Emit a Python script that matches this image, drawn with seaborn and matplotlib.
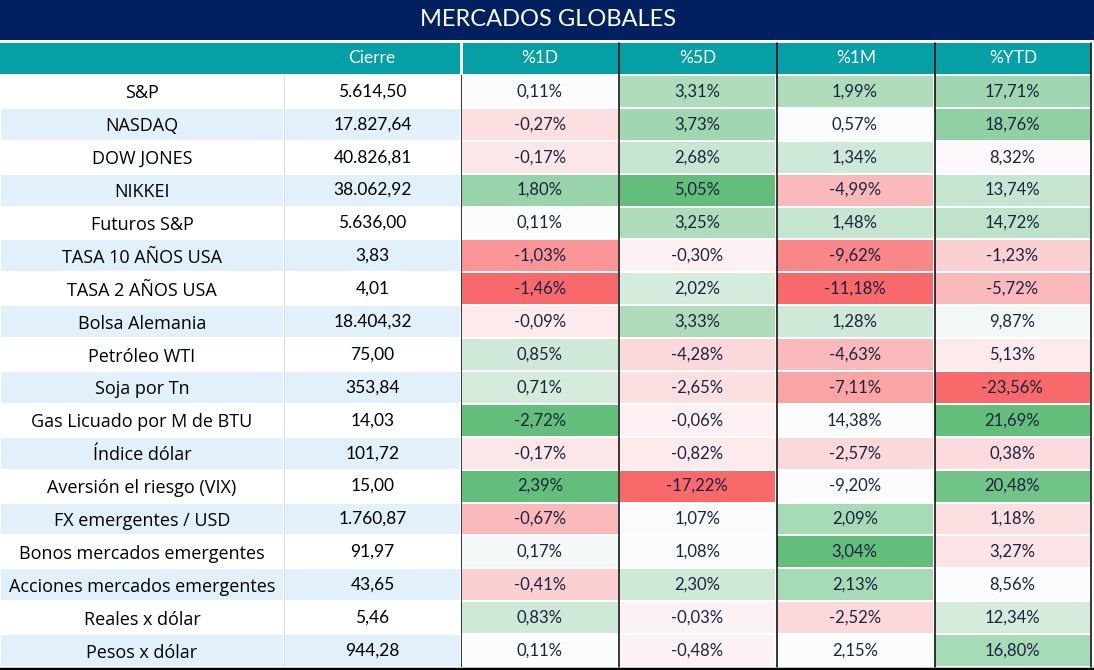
import matplotlib
matplotlib.use("Agg")
import matplotlib.pyplot as plt
import numpy as np
import seaborn as sns
from matplotlib.colors import LinearSegmentedColormap, ListedColormap
from matplotlib.lines import Line2D
from matplotlib.patches import Rectangle

# Datos de la tabla
titulo = "MERCADOS GLOBALES"
activos = ["S&P", "NASDAQ", "DOW JONES", "NIKKEI", "Futuros S&P", "TASA 10 AÑOS USA",
           "TASA 2 AÑOS USA", "Bolsa Alemania", "Petróleo WTI", "Soja por Tn",
           "Gas Licuado por M de BTU", "Índice dólar", "Aversión el riesgo (VIX)",
           "FX emergentes / USD", "Bonos mercados emergentes",
           "Acciones mercados emergentes", "Reales x dólar", "Pesos x dólar"]
cierre = [5614.50, 17827.64, 40826.81, 38062.92, 5636.00, 3.83, 4.01, 18404.32, 75.00,
          353.84, 14.03, 101.72, 15.00, 1760.87, 91.97, 43.65, 5.46, 944.28]
columnas = ["%1D", "%5D", "%1M", "%YTD"]
var_1d = [0.11, -0.27, -0.17, 1.80, 0.11, -1.03, -1.46, -0.09, 0.85, 0.71, -2.72, -0.17,
          2.39, -0.67, 0.17, -0.41, 0.83, 0.11]
var_5d = [3.31, 3.73, 2.68, 5.05, 3.25, -0.30, 2.02, 3.33, -4.28, -2.65, -0.06, -0.82,
          -17.22, 1.07, 1.08, 2.30, -0.03, -0.48]
var_1m = [1.99, 0.57, 1.34, -4.99, 1.48, -9.62, -11.18, 1.28, -4.63, -7.11, 14.38, -2.57,
          -9.20, 2.09, 3.04, 2.13, -2.52, 2.15]
var_ytd = [17.71, 18.76, 8.32, 13.74, 14.72, -1.23, -5.72, 9.87, 5.13, -23.56, 21.69, 0.38,
           20.48, 1.18, 3.27, 8.56, 12.34, 16.80]

color_1d = [0.0, -0.2, -0.15, 0.65, 0.0, -0.7, -1.0, -0.12, 0.3, 0.25, 1.0, -0.15,
            1.0, -0.45, 0.05, -0.3, 0.3, 0.0]
color_5d = [0.5, 0.6, 0.35, 1.0, 0.5, -0.08, 0.25, 0.5, -0.25, -0.2, -0.08, -0.12,
            -1.0, 0.02, 0.02, 0.3, -0.07, -0.07]
color_1m = [0.5, 0.0, 0.3, -0.45, 0.35, -0.8, -1.0, 0.3, -0.45, -0.6, 0.0, -0.25,
            0.0, 0.55, 1.0, 0.55, -0.25, 0.0]
color_ytd = [0.6, 0.7, -0.03, 0.35, 0.4, -0.3, -0.45, 0.06, -0.12, -1.0, 1.0, -0.22,
             0.9, -0.2, -0.17, 0.0, 0.25, 0.55]


def fmt_pct(v):
    return f"{v:.2f}".replace(".", ",") + "%"


def fmt_num(v):
    return f"{v:,.2f}".replace(",", "X").replace(".", ",").replace("X", ".")


sns.set_theme(style="white")
plt.rcParams["font.family"] = ["Lato", "DejaVu Sans"]

W, H = 1094, 670
fig = plt.figure(figsize=(W / 100, H / 100), dpi=100)
fig.patch.set_facecolor("white")


def box(x0, y0, x1, y1):
    return [x0 / W, 1 - y1 / H, (x1 - x0) / W, (y1 - y0) / H]


navy = "#002060"
teal = "#05A0A5"
azul_claro = "#E2F0FB"
texto = "#1C2340"

# barra de titulo y encabezado
fig.add_artist(Rectangle((0, 1 - 40 / H), 1, 40 / H, transform=fig.transFigure,
                         facecolor=navy, edgecolor="none"))
fig.text(548 / W, 1 - 20 / H, titulo, color="white", fontsize=17, ha="center", va="center")
fig.add_artist(Rectangle((0, 1 - 74 / H), 1091 / W, 31 / H, transform=fig.transFigure,
                         facecolor=teal, edgecolor="none"))

n = len(activos)
paridad = (np.arange(n) % 2).reshape(-1, 1)
fondo = ListedColormap(["white", azul_claro])

ax_nom = fig.add_axes(box(0, 75, 284, 667))
sns.heatmap(paridad, ax=ax_nom, cmap=fondo, vmin=0, vmax=1, cbar=False,
            annot=np.array(activos).reshape(-1, 1), fmt="",
            annot_kws={"fontsize": 13, "color": "black", "va": "center_baseline",
                       "family": ["Open Sans", "DejaVu Sans"]},
            linewidths=1.2, linecolor="white", xticklabels=False, yticklabels=False)

ax_cie = fig.add_axes(box(284, 75, 461, 667))
sns.heatmap(paridad, ax=ax_cie, cmap=fondo, vmin=0, vmax=1, cbar=False,
            annot=np.array([fmt_num(v) for v in cierre]).reshape(-1, 1), fmt="",
            annot_kws={"fontsize": 12.5, "color": "black"},
            linewidths=1.2, linecolor="white", xticklabels=False, yticklabels=False)
ax_cie.axvline(0, color="#D9D9D9", lw=1.2)

valores = np.column_stack([var_1d, var_5d, var_1m, var_ytd])
colores = np.column_stack([color_1d, color_5d, color_1m, color_ytd])
etiquetas = np.vectorize(fmt_pct)(valores)
escala = LinearSegmentedColormap.from_list("excel", ["#F8696B", "#FCFCFF", "#63BE7B"])

ax_var = fig.add_axes(box(461, 75, 1091, 667))
sns.heatmap(colores, ax=ax_var, cmap=escala, vmin=-1, vmax=1, cbar=False,
            annot=etiquetas, fmt="", annot_kws={"fontsize": 12, "color": texto},
            linewidths=1.2, linecolor="white", xticklabels=False, yticklabels=False)
ax_var.axvline(0, color="black", lw=1.1)

# encabezados de columna
fig.text(372 / W, 1 - 58 / H, "Cierre", color="white", fontsize=12.5, ha="center", va="center")
bordes = [461, 619, 777, 935, 1091]
for i, col in enumerate(columnas):
    xc = (bordes[i] + bordes[i + 1]) / 2
    fig.text(xc / W, 1 - 58 / H, col, color="white", fontsize=12.5, ha="center", va="center")

# lineas verticales negras entre columnas de variacion
for xb in bordes[1:]:
    fig.add_artist(Line2D([xb / W, xb / W], [1 - 667 / H, 1 - 43 / H],
                          transform=fig.transFigure, color="black", lw=1.1))
fig.add_artist(Rectangle((460 / W, 1 - 74 / H), 2.5 / W, 31 / H, transform=fig.transFigure,
                         facecolor="white", edgecolor="none"))
# borde inferior
fig.add_artist(Line2D([0, 1], [1.5 / H, 1.5 / H], transform=fig.transFigure,
                      color="black", lw=2.5))

fig.savefig("out.png", dpi=100)
